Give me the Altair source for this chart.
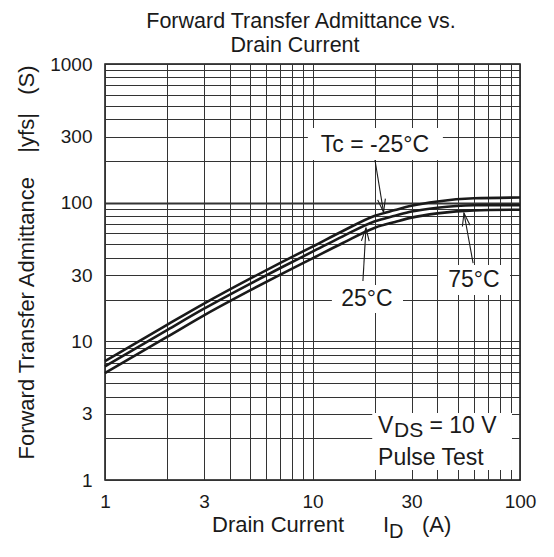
import altair as alt
import pandas as pd

# ---- data ----
current = [1, 2, 3, 5, 7, 10, 14, 20, 25, 30, 40, 60, 100]
yfs_m25 = [7.2, 13.2, 18.7, 28.3, 36.8, 48.2, 62.5, 80.5, 88.5, 95.0, 102.0, 107.5, 109.0]
yfs_25 = [6.6, 12.1, 17.2, 26.0, 33.8, 44.3, 57.2, 73.5, 80.5, 86.3, 92.0, 95.7, 96.0]
yfs_75 = [5.9, 10.8, 15.4, 23.3, 30.3, 39.7, 51.2, 66.0, 72.6, 78.0, 83.7, 88.0, 89.0]

x_grid = [1, 2, 3, 4, 5, 6, 7, 8, 9, 10, 20, 30, 40, 50, 60, 70, 80, 90, 100]
y_grid = [1, 2, 3, 4, 5, 6, 7, 8, 9, 10, 20, 30, 40, 50, 60, 70, 80, 90, 100,
          200, 300, 400, 500, 600, 700, 800, 900, 1000]
x_labels = [1, 3, 10, 30, 100]
y_labels = [1, 3, 10, 30, 100, 300, 1000]

# annotation labels (data coordinates)
lab_text = ["Tc = -25°C", "25°C", "75°C"]
lab_x = [20.0, 18.3, 60.0]
lab_y = [262.0, 20.2, 27.9]

# white label boxes
box_x1 = [9.5, 12.4, 40.3, 19.4]
box_x2 = [42.5, 27.3, 89.5, 91.5]
box_y1 = [203.0, 16.0, 21.6, 1.18]
box_y2 = [345.0, 25.5, 35.5, 3.04]

# arrows: start -> tip
arr_x1 = [20.0, 17.5, 59.4]
arr_y1 = [203.0, 27.2, 36.7]
arr_x2 = [22.0, 18.1, 53.7]
arr_y2 = [85.5, 65.6, 84.2]
arr_ang = [171, 3, 350]

rows = []
for name, vals in [("-25", yfs_m25), ("25", yfs_25), ("75", yfs_75)]:
    for c, v in zip(current, vals):
        rows.append({"Tc": name, "Id": c, "yfs": v})
curves_df = pd.DataFrame(rows)

FONT = "Liberation Sans"
TXT = "#1a1a1a"

xscale = alt.Scale(type="log", domain=[1, 100], nice=False)
yscale = alt.Scale(type="log", domain=[1, 1000], nice=False)

def lab_expr(vals):
    return f"indexof({vals}, datum.value) >= 0 ? format(datum.value, 'd') : ''"

xaxis = alt.Axis(values=x_grid, labelExpr=lab_expr(x_labels), title=None,
                 grid=True, gridColor="#333333", gridWidth=1, ticks=False,
                 domain=False, labelFontSize=19, labelColor=TXT, labelPadding=12,
                 labelFlush=False, labelOverlap=False, labelFont=FONT)
yaxis = alt.Axis(values=y_grid, labelExpr=lab_expr(y_labels),
                 title="Forward Transfer Admittance\u00a0\u00a0\u00a0\u00a0|yfs|\u00a0\u00a0\u00a0(S)",
                 titleFontSize=22, titleFontWeight="normal", titleColor=TXT,
                 titleFont=FONT, titleX=-72, titleY=198, titleAngle=270,
                 titleAlign="center", titleBaseline="alphabetic",
                 grid=True, gridColor="#333333",
                 gridWidth={"condition": {"test": "datum.value === 100", "value": 2.2}, "value": 1},
                 ticks=False, domain=False, labelFontSize=19, labelColor=TXT,
                 labelPadding=13, labelFlush=False, labelOverlap=False, labelFont=FONT)

curves = alt.Chart(curves_df).mark_line(
    color="#1a1a1a", strokeWidth=2.6, interpolate="monotone"
).encode(
    x=alt.X("Id:Q", scale=xscale, axis=xaxis),
    y=alt.Y("yfs:Q", scale=yscale, axis=yaxis),
    detail="Tc:N",
)

boxes = alt.Chart(pd.DataFrame({"x1": box_x1, "x2": box_x2, "y1": box_y1, "y2": box_y2})).mark_rect(
    fill="white"
).encode(
    x=alt.X("x1:Q", scale=xscale), x2="x2:Q",
    y=alt.Y("y1:Q", scale=yscale), y2="y2:Q",
)

labels = alt.Chart(pd.DataFrame({"t": lab_text, "x": lab_x, "y": lab_y})).mark_text(
    fontSize=23, font=FONT, color=TXT, align="center", baseline="middle"
).encode(
    x=alt.X("x:Q", scale=xscale), y=alt.Y("y:Q", scale=yscale), text="t:N"
)

arr_df = pd.DataFrame({"x1": arr_x1, "y1": arr_y1, "x2": arr_x2, "y2": arr_y2, "a": arr_ang})
shafts = alt.Chart(arr_df).mark_rule(color="#1a1a1a", strokeWidth=1.1).encode(
    x=alt.X("x1:Q", scale=xscale), y=alt.Y("y1:Q", scale=yscale), x2="x2:Q", y2="y2:Q"
)
heads = alt.Chart(arr_df).mark_point(
    shape="M-0.3,1L0,0L0.3,1", size=676, filled=False, stroke="#1a1a1a", strokeWidth=1.1, opacity=1
).encode(
    x=alt.X("x2:Q", scale=xscale), y=alt.Y("y2:Q", scale=yscale),
    angle=alt.Angle("a:Q", scale=None),
)

# test-condition text block
vds_df = pd.DataFrame({
    "t": ["V", "DS", "= 10 V", "Pulse Test"],
    "x": [20.7, 24.7, 36.6, 20.7],
    "y": [2.18, 2.03, 2.18, 1.28],
    "fs": [23, 21, 23, 23],
})
vds = alt.Chart(vds_df).mark_text(
    font=FONT, color=TXT, align="left", baseline="alphabetic"
).encode(
    x=alt.X("x:Q", scale=xscale), y=alt.Y("y:Q", scale=yscale), text="t:N",
    size=alt.Size("fs:Q", scale=None, legend=None),
)

one = pd.DataFrame({"k": [0]})
def ptext(t, x, y, fs=22, align="left"):
    return alt.Chart(one).mark_text(
        text=t, font=FONT, fontSize=fs, color=TXT, align=align, baseline="alphabetic"
    ).encode(x=alt.value(x), y=alt.value(y))

title1 = ptext("Forward Transfer Admittance vs.", 196, -36, 21.5, "center")
title2 = ptext("Drain Current", 190, -12, 21.5, "center")
xt1 = ptext("Drain Current", 107, 468, 22)
xt2 = ptext("I", 278, 468, 22)
xt3 = ptext("D", 284, 474, 20)
xt4 = ptext("(A)", 317, 468, 22)

chart = alt.layer(
    boxes, curves, shafts, heads, labels, vds, title1, title2, xt1, xt2, xt3, xt4
).properties(
    width=415, height=416,
    padding={"left": 97, "top": 56, "right": 24, "bottom": 63},
    autosize=alt.AutoSizeParams(type="none"),
).configure(font=FONT).configure_view(stroke="#111111", strokeWidth=1.5)

chart.save("out.html", embed_options={"renderer": "svg", "actions": False})
